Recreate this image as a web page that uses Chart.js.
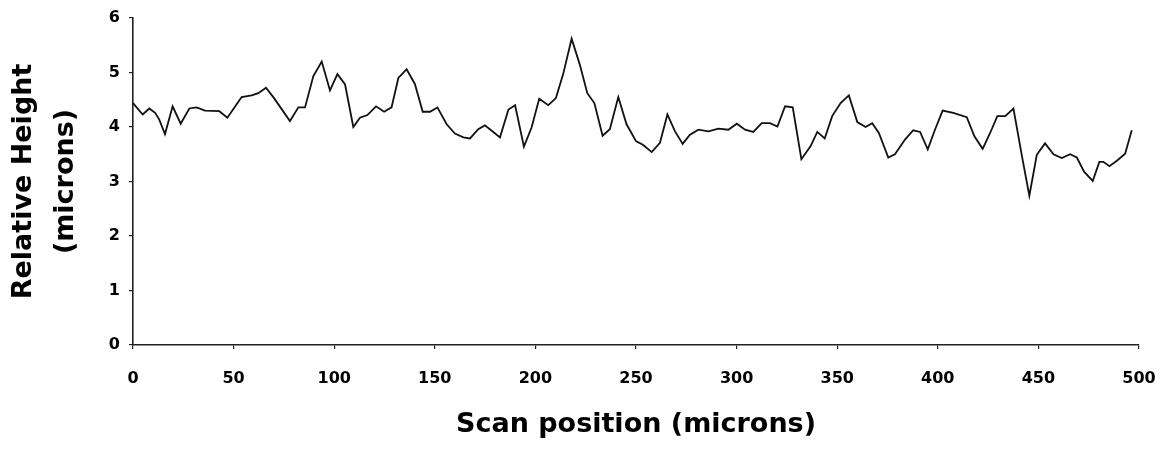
<!DOCTYPE html>
<html>
<head>
<meta charset="utf-8">
<script src="https://cdn.jsdelivr.net/npm/chart.js@4/dist/chart.umd.min.js"></script>
<style>
  html, body { margin: 0; padding: 0; background: #fff; }
  #wrap { width: 1166px; height: 449px; }
</style>
</head>
<body>
<div id="wrap"><canvas id="c" width="1166" height="449"></canvas></div>
<script>
const scanPositions = [
  0, 4.8, 8.1, 11, 13, 15.9, 19.7, 23.7, 28, 31.6, 35.8, 42.9, 46.9, 54, 59, 62.3, 66.1, 70.1, 78, 82.2,
  85.5, 89.6, 93.8, 97.9, 101.6, 105.4, 109.5, 112.8, 116.5, 120.8, 124.8, 128.5, 131.9, 136, 140.1, 144, 147.6, 151.3, 155.9, 160,
  164.2, 167.5, 171.6, 174.9, 178.3, 182.4, 186.6, 189.9, 194.3, 198.1, 201.9, 206.4, 210.2, 213.8, 218, 222.1, 225.8, 229.3, 233.4, 237,
  241.2, 245.3, 250, 253.6, 257.8, 261.9, 265.6, 269.4, 273.2, 276.8, 281, 286, 291, 295.9, 300.1, 304.2, 308.3, 312.5, 316.6, 320.3,
  324.1, 327.9, 332.2, 336.8, 340.1, 343.8, 347.5, 351.7, 355.8, 360, 364.1, 367.4, 370.7, 375.4, 378.7, 383.7, 387.8, 391.2, 395, 398.6,
  402.4, 407.7, 414.4, 418.2, 422.3, 426, 429.6, 433.5, 437.6, 441.8, 445.5, 449.2, 453.3, 457.5, 461.6, 465.8, 469.1, 472.7, 477, 480.3,
  482.3, 485.3, 489, 493.1, 496.4
];
const relativeHeights = [
  4.44, 4.23, 4.34, 4.26, 4.14, 3.87, 4.38, 4.06, 4.34, 4.36, 4.30, 4.29, 4.17, 4.55, 4.58, 4.62, 4.72, 4.53, 4.11, 4.36,
  4.36, 4.93, 5.20, 4.67, 4.97, 4.78, 4.00, 4.17, 4.22, 4.38, 4.28, 4.36, 4.90, 5.06, 4.79, 4.28, 4.28, 4.36, 4.05, 3.88,
  3.81, 3.79, 3.96, 4.03, 3.93, 3.81, 4.32, 4.40, 3.64, 3.99, 4.52, 4.40, 4.53, 4.97, 5.62, 5.14, 4.62, 4.44, 3.84, 3.96,
  4.55, 4.05, 3.74, 3.67, 3.54, 3.71, 4.23, 3.92, 3.69, 3.86, 3.95, 3.92, 3.97, 3.95, 4.06, 3.95, 3.91, 4.07, 4.07, 4.01,
  4.38, 4.36, 3.41, 3.65, 3.91, 3.79, 4.20, 4.44, 4.58, 4.09, 4.00, 4.07, 3.89, 3.44, 3.50, 3.77, 3.94, 3.91, 3.59, 3.95,
  4.30, 4.26, 4.18, 3.83, 3.60, 3.89, 4.20, 4.20, 4.34, 3.47, 2.74, 3.49, 3.70, 3.50, 3.43, 3.50, 3.44, 3.18, 3.01, 3.36,
  3.36, 3.28, 3.38, 3.51, 3.94
];
const xTickValues = [0, 50, 100, 150, 200, 250, 300, 350, 400, 450, 500];
const yTickValues = [0, 1, 2, 3, 4, 5, 6];
const xAxisTitle = 'Scan position (microns)';
const yAxisTitle = ['Relative Height', '(microns)'];

const points = scanPositions.map((x, i) => ({ x: x, y: relativeHeights[i] }));

new Chart(document.getElementById('c'), {
  type: 'line',
  data: {
    datasets: [{
      data: points,
      borderColor: '#111',
      borderWidth: 1.8,
      pointRadius: 0,
      tension: 0,
      fill: false
    }]
  },
  options: {
    responsive: false,
    animation: false,
    devicePixelRatio: 1,
    layout: { padding: { left: 0, right: 27, top: 18, bottom: 0 } },
    plugins: { legend: { display: false }, tooltip: { enabled: false } },
    scales: {
      x: {
        type: 'linear',
        min: 0, max: 500,
        afterBuildTicks: (s) => { s.ticks = xTickValues.map(v => ({ value: v })); },
        afterFit: (s) => { s.height = 104; s.paddingLeft = 0; s.paddingRight = 0; },
        border: { display: true, color: '#222', width: 1.6 },
        grid: { display: true, drawOnChartArea: false, drawTicks: true, tickLength: 4, color: '#222', lineWidth: 1.2 },
        ticks: {
          color: '#000',
          padding: 20,
          maxRotation: 0,
          autoSkip: false,
          font: { family: 'DejaVu Sans', size: 16, weight: 'bold' }
        },
        title: {
          display: true,
          text: xAxisTitle,
          color: '#000',
          padding: { top: 0, bottom: 8 },
          font: { family: 'DejaVu Sans', size: 27, weight: 'bold', lineHeight: 1.2 }
        }
      },
      y: {
        min: 0, max: 6,
        afterBuildTicks: (s) => { s.ticks = yTickValues.map(v => ({ value: v })); },
        afterFit: (s) => { s.width = 133; s.paddingTop = 0; s.paddingBottom = 0; },
        border: { display: true, color: '#222', width: 1.6 },
        grid: { display: true, drawOnChartArea: false, drawTicks: true, tickLength: 4, color: '#222', lineWidth: 1.2 },
        ticks: {
          color: '#000',
          padding: 9,
          font: { family: 'DejaVu Sans', size: 16, weight: 'bold' }
        },
        title: {
          display: true,
          text: yAxisTitle,
          color: '#000',
          padding: { top: 3, bottom: 0 },
          font: { family: 'DejaVu Sans', size: 27, weight: 'bold', lineHeight: 1.55 }
        }
      }
    }
  }
});
</script>
</body>
</html>
